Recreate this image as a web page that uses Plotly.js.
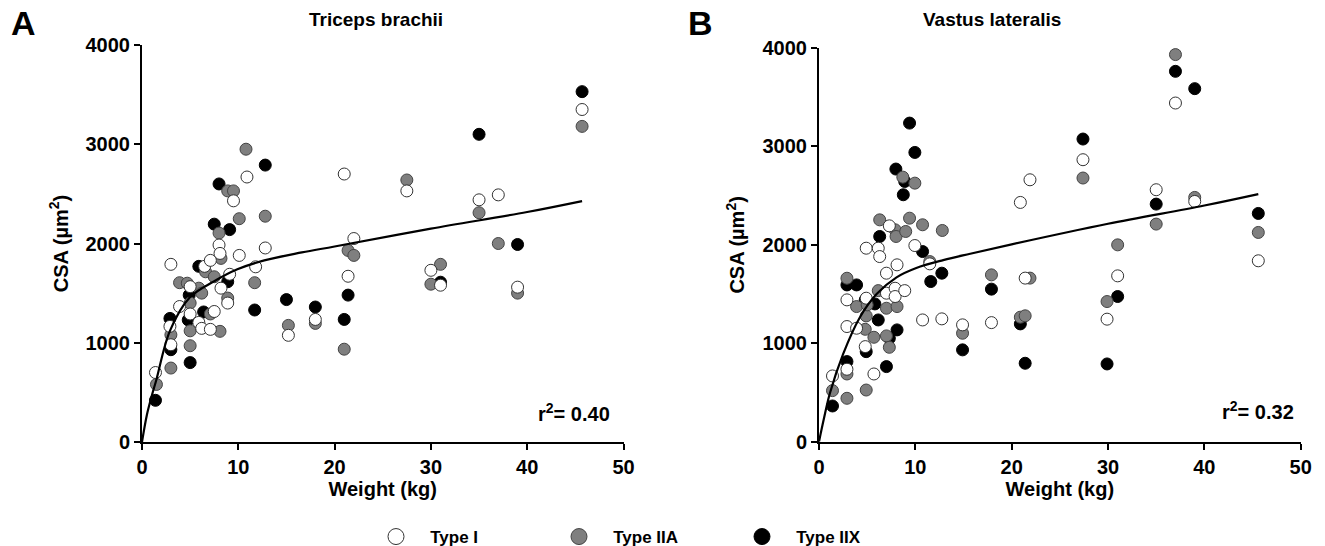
<!DOCTYPE html>
<html>
<head>
<meta charset="utf-8">
<script src="https://cdn.plot.ly/plotly-3.0.1.min.js"></script>
<style>html,body{margin:0;padding:0;background:#fff;}#chart{width:1325px;height:546px;}</style>
</head>
<body>
<div id="chart"></div>
<script>
// ---------- Panel A: Triceps brachii ----------
const typeI_A_x  = [1.4,2.9,3.0,3.0,3.9,5.0,5.0,5.9,6.2,6.5,7.1,7.1,7.5,8.0,8.1,8.2,8.9,9.1,9.5,10.1,10.9,11.8,12.8,15.2,18.0,21.0,21.4,22.0,27.5,30.0,31.0,35.0,37.0,39.0,45.7];
const typeI_A_y  = [700,1165,980,1790,1365,1565,1290,1205,1145,1770,1830,1135,1315,1985,1900,1550,1400,1690,2430,1880,2670,1765,1955,1075,1235,2700,1670,2050,2530,1730,1580,2440,2490,1560,3350];
const typeIIA_A_x = [1.5,3.0,3.0,3.9,4.7,5.0,5.0,5.0,5.9,6.2,6.6,7.1,7.5,8.0,8.2,8.1,8.9,8.9,9.5,10.1,10.8,11.7,12.8,15.2,18.0,21.0,21.4,22.0,27.5,30.0,31.0,35.0,37.0,39.0,45.7];
const typeIIA_A_y = [580,745,1080,1605,1600,1400,1120,970,1550,1500,1715,1290,1665,2105,1850,1115,1450,2530,2530,2250,2950,1605,2275,1175,1195,935,1930,1880,2640,1590,1790,2310,2000,1500,3180];
const typeIIX_A_x = [1.4,2.9,3.0,4.8,4.9,5.0,5.9,6.4,7.5,8.0,8.9,9.1,11.7,12.8,15.0,18.0,21.0,21.4,31.0,35.0,39.0,45.7];
const typeIIX_A_y = [420,1245,930,1230,1480,800,1770,1310,2195,2600,1615,2140,1330,2790,1435,1360,1235,1480,1610,3100,1990,3530];
const fit_A_x = [0,0.5,1,1.5,2.9,5,7.5,9.9,12.7,16.6,20,30,40,45.7];
const fit_A_y = [0,270,460,630,1120,1460,1620,1740,1830,1910,1970,2150,2317,2427];

// ---------- Panel B: Vastus lateralis ----------
const typeI_B_x  = [1.4,2.9,2.9,2.9,3.9,4.8,4.9,4.9,5.7,6.15,6.3,7.0,7.0,7.3,7.9,7.9,8.1,8.9,9.95,10.75,11.5,12.75,14.9,17.9,20.9,21.4,21.9,27.4,29.9,31.0,35.0,37.0,39.0,45.6];
const typeI_B_y  = [668,736,1170,1441,1153,966,1458,1966,688,1966,1881,1712,1509,2193,1559,1475,1797,1535,1993,1237,1807,1248,1187,1210,2431,1662,2661,2865,1245,1685,2560,3441,2441,1838];
const typeIIA_B_x = [1.4,2.9,2.9,2.9,3.9,4.8,4.9,4.9,5.0,5.7,6.15,6.3,7.0,7.0,7.3,7.9,8.0,8.1,8.7,9.0,9.4,9.95,10.75,11.5,12.8,14.9,17.9,20.9,21.4,21.9,27.4,29.9,31.0,35.0,37.0,39.0,45.6];
const typeIIA_B_y = [519,441,688,1661,1373,1142,525,1278,1390,1061,1535,2254,1356,1075,959,2153,2085,1373,2688,2136,2271,2627,2204,1830,2146,1102,1695,1265,1279,1662,2679,1424,2000,2211,3933,2482,2126];
const typeIIX_B_x = [1.4,2.9,2.9,3.9,4.8,4.9,5.8,6.15,6.3,7.0,7.3,7.98,8.1,8.75,8.9,9.4,9.95,10.75,11.6,12.75,14.9,17.9,20.9,21.4,27.4,29.9,31.0,35.0,37.0,39.0,45.6];
const typeIIX_B_y = [363,814,1593,1593,1441,915,1400,1237,2085,763,1051,2770,1136,2509,2644,3237,2939,1932,1627,1712,933,1550,1197,797,3075,790,1475,2414,3763,3587,2319];
const fit_B_x = [0,0.5,1.13,2.5,4.25,5.98,8.05,10.1,12.9,15.7,20,30,40,45.6];
const fit_B_y = [0,230,492,890,1265,1500,1670,1765,1845,1910,2005,2214,2400,2516];

const seriesNames = ['Type I','Type IIA','Type IIX'];
const panelTitles = ['Triceps brachii','Vastus lateralis'];
const panelLetters = ['A','B'];
const r2Labels = ['r<sup>2</sup>= 0.40','r<sup>2</sup>= 0.32'];
const xTicks = [0,10,20,30,40,50];
const yTicks = [0,1000,2000,3000,4000];

const FONT = 'Arial, "Liberation Sans", Helvetica, sans-serif';
const styles = {
  'Type I':  {color:'#ffffff', line:'#333333'},
  'Type IIA':{color:'#7f7f7f', line:'#444444'},
  'Type IIX':{color:'#000000', line:'#000000'}
};

function pts(x,y,name,xa,ya){
  return {x:x,y:y,type:'scatter',mode:'markers',name:name,showlegend:false,
    xaxis:xa,yaxis:ya,cliponaxis:false,
    marker:{size:12,color:styles[name].color,line:{color:styles[name].line,width:1}}};
}
function fit(x,y,xa,ya){
  return {x:x,y:y,type:'scatter',mode:'lines',showlegend:false,xaxis:xa,yaxis:ya,
    line:{color:'#000',width:2.2,shape:'spline',smoothing:1},hoverinfo:'skip'};
}
const data = [
  pts(typeIIX_A_x,typeIIX_A_y,'Type IIX','x','y'),
  pts(typeIIA_A_x,typeIIA_A_y,'Type IIA','x','y'),
  pts(typeI_A_x,typeI_A_y,'Type I','x','y'),
  fit(fit_A_x,fit_A_y,'x','y'),
  pts(typeIIX_B_x,typeIIX_B_y,'Type IIX','x2','y2'),
  pts(typeIIA_B_x,typeIIA_B_y,'Type IIA','x2','y2'),
  pts(typeI_B_x,typeI_B_y,'Type I','x2','y2'),
  fit(fit_B_x,fit_B_y,'x2','y2')
];
// legend entries
seriesNames.forEach(n=>{
  data.push({x:[null],y:[null],type:'scatter',mode:'markers',name:'\u00a0\u00a0\u00a0'+n,showlegend:true,
    marker:{size:16,color:styles[n].color,line:{color:styles[n].line,width:1}}});
});

const W=1325,H=546;
function xax(domain){
  return {domain:domain,range:[0,50],tickvals:xTicks,ticktext:xTicks.map(String),
    showline:true,linewidth:2,linecolor:'#000',ticks:'outside',ticklen:6,tickwidth:2,tickcolor:'#000',
    showgrid:false,zeroline:false,fixedrange:true,
    tickfont:{family:FONT,size:20,color:'#000',weight:'bold'},
    title:{text:'Weight (kg)',standoff:0,font:{family:FONT,size:20,color:'#000',weight:'bold'}}};
}
function yax(domain,anchor){
  return {domain:domain,range:[0,4000],tickvals:yTicks,ticktext:yTicks.map(String),anchor:anchor,
    showline:true,linewidth:2,linecolor:'#000',ticks:'outside',ticklen:6,tickwidth:2,tickcolor:'#000',
    showgrid:false,zeroline:false,fixedrange:true,
    tickfont:{family:FONT,size:20,color:'#000',weight:'bold'},
    title:{text:'CSA (µm<sup>2</sup>)',standoff:12,font:{family:FONT,size:20,color:'#000',weight:'bold'}}};
}
const layout = {
  width:W,height:H,margin:{l:0,r:0,t:0,b:0,autoexpand:false},paper_bgcolor:'#fff',plot_bgcolor:'#fff',
  font:{family:FONT,color:'#000'},
  xaxis:Object.assign(xax([142/W,623.5/W]),{anchor:'y'}),
  yaxis:yax([1-442/H,1-45/H],'x'),
  xaxis2:Object.assign(xax([819/W,1300.7/W]),{anchor:'y2'}),
  yaxis2:yax([1-441.7/H,1-48/H],'x2'),
  showlegend:true,
  legend:{orientation:'h',x:376/W,xanchor:'left',y:1-537/H,yanchor:'middle',
    entrywidth:138,entrywidthmode:'pixels',traceorder:'normal',
    font:{family:FONT,size:17,color:'#000',weight:'bold'},bgcolor:'rgba(0,0,0,0)'},
  annotations:[
    {text:panelLetters[0],xref:'paper',yref:'paper',x:23/W,y:1-23/H,xanchor:'center',yanchor:'middle',showarrow:false,font:{family:FONT,size:34,weight:'bold'}},
    {text:panelLetters[1],xref:'paper',yref:'paper',x:700/W,y:1-23/H,xanchor:'center',yanchor:'middle',showarrow:false,font:{family:FONT,size:34,weight:'bold'}},
    {text:panelTitles[0],xref:'paper',yref:'paper',x:376/W,y:1-20/H,xanchor:'center',yanchor:'middle',showarrow:false,font:{family:FONT,size:19,weight:'bold'}},
    {text:panelTitles[1],xref:'paper',yref:'paper',x:992/W,y:1-20/H,xanchor:'center',yanchor:'middle',showarrow:false,font:{family:FONT,size:19,weight:'bold'}},
    {text:r2Labels[0],xref:'x',yref:'y',x:48.8,y:300,xanchor:'right',yanchor:'middle',showarrow:false,font:{family:FONT,size:20,weight:'bold'}},
    {text:r2Labels[1],xref:'x2',yref:'y2',x:49.5,y:320,xanchor:'right',yanchor:'middle',showarrow:false,font:{family:FONT,size:20,weight:'bold'}}
  ]
};
Plotly.newPlot('chart',data,layout,{displayModeBar:false,staticPlot:true});
</script>
</body>
</html>
